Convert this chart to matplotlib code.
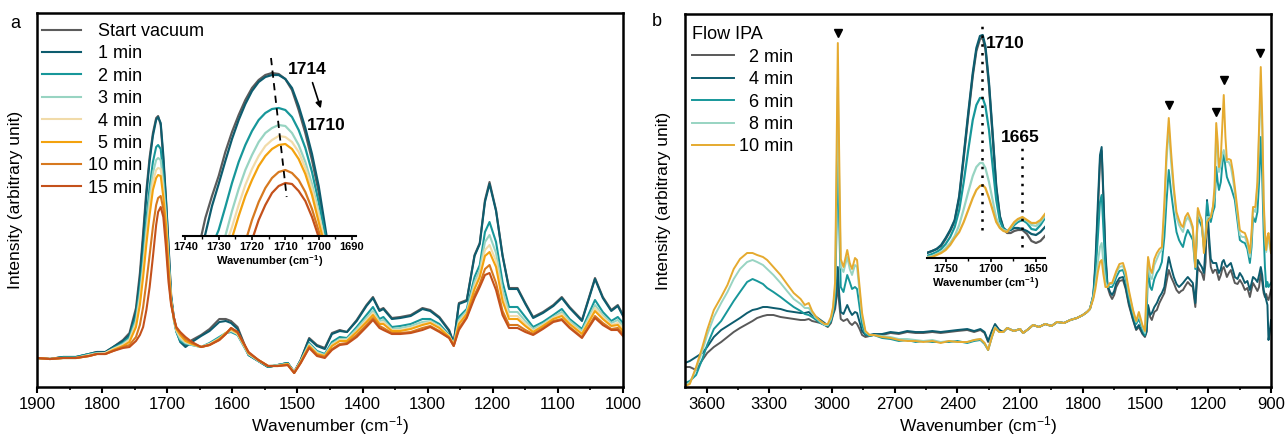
import matplotlib
matplotlib.use("Agg")
import matplotlib.pyplot as plt
from matplotlib.ticker import MultipleLocator

plt.rcParams['font.family'] = ['Liberation Sans', 'DejaVu Sans']
plt.rcParams['mathtext.fontset'] = 'custom'
plt.rcParams['mathtext.rm'] = 'Liberation Sans'
plt.rcParams['mathtext.bf'] = 'Liberation Sans:bold'
plt.rcParams['mathtext.default'] = 'regular'

# ---------------- panel a: vacuum series (intensity, arbitrary unit) ----------------
wn_a = [1900, 1880, 1860, 1840, 1820, 1808, 1795, 1783, 1768, 1758, 1748, 1742, 1737, 1732, 1727,
        1722, 1717, 1714, 1710, 1706, 1702, 1698, 1694, 1690, 1686, 1680, 1672, 1662, 1648, 1635,
        1620, 1610, 1602, 1592, 1575, 1560, 1545, 1530, 1515, 1505, 1495, 1482, 1470, 1458, 1447,
        1435, 1424, 1409, 1394, 1384, 1374, 1368, 1355, 1342, 1326, 1308, 1296, 1282, 1267, 1260,
        1252, 1240, 1228, 1220, 1212, 1205, 1195, 1185, 1175, 1162, 1150, 1138, 1123, 1107, 1094,
        1082, 1063, 1043, 1031, 1018, 1008, 1000]

a_start = [29, 28, 30, 30, 33, 35, 35, 40, 47, 54, 79, 114, 154, 197, 230,
           254, 269, 271, 262, 227, 187, 140, 90, 70, 57, 47, 42, 47, 52, 58,
           68, 68, 66, 60, 32, 26, 20, 22, 24, 15, 27, 49, 42, 39, 54,
           57, 55, 67, 82, 90, 77, 79, 69, 70, 72, 79, 77, 70, 57, 44,
           84, 87, 132, 144, 187, 205, 177, 132, 99, 99, 84, 70, 75, 82, 90,
           80, 67, 109, 90, 77, 82, 72]
a_1min = [29, 28, 30, 30, 33, 35, 35, 40, 46, 52, 75, 108, 148, 192, 226,
          251, 267, 270, 264, 232, 190, 142, 92, 70, 56, 45, 40, 45, 51, 56,
          65, 66, 64, 58, 32, 26, 20, 22, 24, 15, 27, 48, 41, 38, 53,
          56, 55, 66, 81, 89, 76, 78, 68, 69, 71, 78, 76, 69, 56, 44,
          83, 86, 131, 143, 185, 203, 176, 131, 98, 98, 83, 69, 74, 81, 89,
          79, 66, 108, 89, 76, 81, 71]
a_2min = [29, 28, 30, 30, 33, 34, 34, 39, 44, 50, 70, 98, 130, 168, 200,
          225, 240, 242, 238, 212, 178, 132, 88, 68, 55, 46, 43, 42, 40, 44,
          50, 54, 55, 52, 32, 26, 20, 22, 24, 15, 26, 44, 36, 33, 45,
          50, 49, 60, 72, 80, 68, 70, 60, 61, 63, 68, 68, 63, 52, 43,
          70, 78, 110, 122, 155, 165, 145, 105, 80, 80, 70, 60, 65, 72, 78,
          68, 58, 87, 75, 66, 70, 64]
a_3min = [29, 28, 29, 29, 32, 34, 34, 38, 43, 48, 66, 92, 122, 158, 190,
          214, 227, 229, 227, 203, 172, 128, 87, 68, 56, 48, 44, 42, 40, 43,
          49, 54, 56, 53, 33, 26, 21, 22, 23, 15, 26, 43, 35, 32, 43,
          48, 48, 58, 69, 76, 66, 67, 58, 59, 61, 65, 66, 61, 51, 43,
          67, 76, 105, 117, 145, 152, 134, 97, 75, 75, 66, 58, 63, 70, 75,
          66, 56, 82, 72, 64, 67, 61]
a_4min = [29, 28, 29, 29, 32, 33, 34, 38, 42, 47, 63, 87, 116, 150, 180,
          205, 217, 219, 218, 196, 167, 124, 86, 69, 57, 50, 45, 43, 40, 43,
          48, 54, 57, 53, 33, 27, 21, 21, 23, 15, 25, 42, 34, 31, 42,
          47, 47, 56, 67, 74, 64, 65, 57, 57, 59, 63, 65, 60, 51, 42,
          65, 74, 101, 113, 137, 142, 126, 91, 71, 71, 63, 56, 62, 69, 73,
          64, 54, 79, 70, 62, 64, 59]
a_5min = [29, 28, 29, 29, 31, 33, 33, 37, 41, 45, 60, 82, 110, 143, 172,
          197, 209, 212, 211, 190, 163, 121, 85, 69, 58, 52, 46, 43, 40, 42,
          48, 54, 58, 54, 34, 27, 21, 21, 23, 14, 25, 41, 33, 31, 41,
          46, 46, 55, 65, 72, 63, 63, 56, 56, 58, 62, 64, 59, 50, 42,
          63, 73, 98, 110, 131, 135, 120, 86, 68, 68, 61, 55, 61, 68, 71,
          63, 53, 76, 68, 61, 62, 56]
a_10min = [29, 28, 29, 29, 31, 33, 33, 36, 40, 42, 50, 62, 80, 105, 132,
           160, 182, 189, 191, 178, 150, 112, 84, 70, 59, 54, 48, 44, 40, 42,
           47, 53, 59, 55, 34, 27, 21, 21, 22, 14, 24, 40, 32, 30, 38,
           43, 44, 52, 62, 69, 61, 59, 54, 54, 55, 59, 61, 56, 49, 41,
           59, 70, 92, 103, 118, 122, 104, 76, 62, 62, 57, 53, 59, 66, 68,
           60, 50, 71, 64, 58, 59, 53]
a_15min = [29, 28, 29, 29, 31, 33, 33, 36, 39, 40, 46, 52, 60, 77, 100,
           130, 162, 175, 180, 170, 140, 105, 82, 70, 60, 55, 50, 45, 40, 42,
           47, 53, 59, 55, 35, 27, 21, 21, 22, 14, 24, 39, 31, 29, 37,
           42, 43, 50, 60, 67, 59, 57, 53, 53, 54, 57, 60, 55, 49, 41,
           57, 69, 89, 100, 112, 114, 97, 72, 59, 59, 55, 52, 58, 65, 67,
           59, 49, 69, 62, 57, 57, 51]

# inset a: zoom on the C=O band
wn_ia = [1738, 1736, 1734, 1732, 1730, 1728, 1726, 1724, 1722, 1720, 1718,
         1716, 1714, 1712, 1710, 1708, 1706, 1704, 1702, 1700, 1698, 1696]
ia_start = [-40, -12, 18, 40, 60, 84, 104, 121, 136, 148, 156, 161, 163, 162, 157, 146, 126, 103, 76, 44, 2, -40]
ia_1min = [-50, -22, 2, 30, 52, 75, 97, 116, 132, 145, 154, 159, 161, 161, 157, 148, 130, 108, 82, 50, 8, -35]
ia_2min = [-100, -60, -30, -10, 6, 29, 53, 74, 91, 105, 116, 123, 127, 128, 126, 119, 106, 88, 64, 34, 1, -40]
ia_3min = [-100, -70, -45, -25, -10, 0, 25, 47, 66, 81, 94, 103, 108, 111, 110, 103, 91, 74, 52, 24, -8, -45]
ia_4min = [-125, -100, -75, -50, -30, -10, 9, 31, 51, 67, 80, 90, 96, 100, 99, 94, 84, 68, 47, 21, -8, -40]
ia_5min = [-130, -105, -80, -55, -35, -15, -2, 20, 40, 56, 70, 80, 87, 91, 92, 87, 77, 62, 41, 14, -12, -45]
ia_10min = [-300, -260, -220, -180, -140, -100, -62, -32, -6, 16, 34, 48, 58, 64, 66, 63, 56, 44, 27, 5, -20, -50]
ia_15min = [-330, -290, -250, -210, -170, -130, -95, -60, -30, -4, 16, 31, 43, 50, 53, 52, 45, 35, 19, -1, -25, -60]
shift_wn = [1714.3, 1709.6]
shift_h = [178, 39]

labels_a = ['  Start vacuum', '  1 min', '  2 min', '  3 min', '  4 min', '  5 min', '10 min', '15 min']
colors_a = ['#5b5b5b', '#0d5c6e', '#17979a', '#98d4c2', '#f1dba9', '#f3a20e', '#d7791f', '#c4511b']
main_a = [a_start, a_1min, a_2min, a_3min, a_4min, a_5min, a_10min, a_15min]
ins_a = [ia_start, ia_1min, ia_2min, ia_3min, ia_4min, ia_5min, ia_10min, ia_15min]

# ---------------- panel b: IPA flow series ----------------
wn_b = [3703, 3680, 3650, 3620, 3597, 3565, 3530, 3500, 3470, 3440, 3406, 3380, 3358, 3330, 3310,
        3280, 3246, 3215, 3183, 3150, 3130, 3111, 3095, 3075, 3055, 3035, 3020, 3005,
        2995, 2985, 2978, 2972, 2966, 2958, 2945, 2927, 2915, 2904, 2890, 2880, 2868, 2856, 2840, 2820, 2800,
        2760, 2720, 2680, 2640, 2600, 2563, 2520, 2480, 2440, 2400, 2353, 2320, 2290, 2270, 2253, 2235,
        2220, 2200, 2181, 2162, 2130, 2100, 2086, 2060, 2038, 2010, 1980, 1950, 1923, 1890, 1860, 1828, 1800,
        1780, 1766, 1750, 1740, 1728, 1718, 1710, 1702, 1692, 1682, 1670, 1660, 1650, 1640, 1625,
        1608, 1595, 1580, 1560, 1545, 1532, 1515, 1503, 1495, 1488, 1478, 1470, 1458, 1446, 1434,
        1422, 1410, 1400, 1389, 1378, 1365, 1352, 1340, 1330, 1321, 1310, 1298, 1286, 1274, 1262,
        1250, 1240, 1231, 1221, 1213, 1206, 1196, 1188, 1178, 1170, 1162, 1155, 1149, 1140, 1133,
        1126, 1118, 1111, 1102, 1092, 1082, 1073, 1060, 1049, 1037, 1025, 1013, 1001, 993, 986,
        975, 965, 957, 949, 942, 935, 929, 923, 917, 912, 906, 900]

b_2min = [20, 20, 17, 27, 34, 40, 45, 50, 55, 59, 63, 66, 69, 71, 72,
          72, 70, 69, 68, 67, 67, 68, 66, 65, 64, 62, 60, 64,
          72, 78, 90, 102, 85, 68, 66, 68, 64, 62, 65, 63, 58, 52, 50, 51, 52,
          52, 54, 53, 55, 54, 54, 55, 54, 55, 56, 57, 55, 57, 54, 45, 55,
          62, 57, 55, 59, 56, 58, 54, 58, 62, 60, 63, 61, 65, 64, 67, 69, 72,
          75, 78, 90, 120, 175, 225, 236, 190, 130, 100, 92, 88, 92, 100, 106,
          107, 98, 82, 67, 57, 60, 53, 50, 55, 80, 70, 67, 75, 77, 84,
          89, 94, 105, 117, 110, 104, 97, 94, 96, 97, 101, 105, 102, 100, 80,
          120, 116, 114, 107, 125, 178, 140, 120, 114, 117, 117, 112, 107, 112, 118,
          120, 115, 110, 114, 117, 110, 104, 103, 107, 103, 97, 99, 90, 98, 104,
          100, 96, 100, 114, 105, 94, 90, 93, 88, 87, 92, 97]
b_4min = [24, 26, 30, 34, 40, 50, 57, 61, 65, 69, 74, 77, 78, 80, 80,
          79, 78, 76, 75, 74, 74, 75, 72, 70, 67, 64, 61, 66,
          74, 82, 100, 120, 95, 75, 73, 82, 76, 72, 75, 74, 65, 56, 52, 52, 53,
          53, 55, 54, 56, 55, 55, 56, 55, 56, 57, 58, 56, 58, 55, 46, 56,
          63, 57, 55, 59, 56, 58, 54, 58, 62, 60, 63, 61, 65, 64, 67, 69, 72,
          75, 78, 92, 125, 185, 232, 240, 195, 135, 102, 95, 92, 96, 104, 109,
          110, 100, 84, 68, 58, 62, 54, 51, 56, 82, 72, 74, 80, 84, 90,
          94, 100, 115, 130, 120, 110, 103, 100, 102, 104, 107, 110, 107, 104, 84,
          127, 123, 120, 114, 140, 187, 150, 128, 124, 124, 124, 118, 114, 118, 125,
          127, 122, 120, 122, 124, 117, 110, 108, 114, 110, 104, 106, 97, 104, 110,
          108, 105, 112, 120, 112, 97, 92, 87, 82, 47, 55, 67]
b_6min = [4, 6, 12, 28, 42, 58, 66, 76, 86, 95, 105, 108, 106, 103, 99,
          95, 90, 85, 80, 76, 73, 72, 70, 67, 64, 62, 61, 66,
          74, 90, 160, 242, 170, 100, 95, 112, 105, 98, 100, 98, 80, 62, 53, 51, 52,
          49, 48, 46, 47, 45, 46, 45, 45, 45, 46, 44, 46, 47, 43, 37, 50,
          59, 55, 55, 59, 56, 58, 54, 58, 62, 60, 63, 61, 65, 64, 67, 69, 72,
          75, 78, 92, 112, 150, 185, 192, 160, 118, 100, 100, 100, 104, 110, 116,
          117, 108, 90, 73, 63, 68, 58, 52, 70, 120, 100, 97, 108, 114, 118,
          125, 150, 185, 217, 195, 174, 155, 147, 143, 140, 150, 157, 152, 147, 118,
          170, 165, 160, 140, 150, 185, 170, 165, 175, 180, 220, 205, 197, 205, 222,
          235, 220, 210, 205, 200, 193, 187, 165, 147, 145, 144, 138, 124, 140, 170,
          165, 175, 205, 250, 210, 154, 120, 100, 105, 100, 102, 104]
b_8min = [2, 4, 18, 36, 52, 70, 84, 95, 108, 118, 125, 127, 125, 122, 118,
          112, 104, 96, 88, 83, 79, 79, 74, 69, 65, 62, 62, 68,
          78, 100, 200, 300, 210, 120, 115, 130, 118, 112, 122, 120, 95, 70, 55, 52, 52,
          51, 50, 48, 48, 47, 46, 47, 45, 46, 45, 45, 47, 48, 44, 38, 51,
          60, 55, 55, 59, 56, 58, 54, 58, 62, 60, 63, 61, 65, 64, 67, 69, 72,
          75, 78, 90, 102, 125, 140, 144, 125, 105, 100, 103, 103, 108, 114, 120,
          121, 112, 94, 76, 65, 72, 60, 54, 90, 128, 110, 108, 122, 128, 134,
          137, 175, 225, 260, 225, 195, 170, 162, 158, 155, 165, 170, 165, 157, 120,
          176, 170, 165, 138, 150, 170, 170, 170, 180, 190, 255, 235, 215, 222, 232,
          237, 230, 225, 225, 220, 208, 195, 172, 152, 150, 150, 143, 130, 150, 178,
          175, 200, 250, 300, 260, 180, 150, 135, 145, 150, 140, 134]
b_10min = [1, 3, 20, 40, 57, 77, 90, 102, 118, 128, 134, 134, 132, 130, 127,
           120, 112, 103, 94, 88, 82, 84, 76, 70, 66, 63, 63, 70,
           80, 105, 230, 344, 240, 128, 120, 137, 124, 118, 129, 127, 100, 74, 56, 52, 52,
           50, 49, 47, 46, 46, 45, 46, 44, 46, 45, 45, 47, 48, 44, 37, 50,
           59, 55, 55, 59, 56, 58, 54, 58, 62, 60, 63, 61, 65, 64, 67, 69, 72,
           75, 78, 88, 98, 115, 125, 127, 113, 100, 100, 104, 104, 110, 116, 123,
           124, 115, 97, 77, 66, 75, 62, 56, 100, 130, 118, 114, 128, 134, 138,
           140, 185, 235, 269, 235, 200, 175, 167, 162, 160, 170, 174, 168, 160, 120,
           179, 172, 167, 134, 150, 165, 168, 170, 180, 200, 264, 245, 220, 230, 260,
           292, 250, 227, 228, 227, 215, 200, 177, 157, 155, 154, 147, 134, 155, 180,
           180, 205, 260, 320, 270, 187, 155, 137, 150, 154, 145, 134]

# inset b: C=O region
wn_ib = [1771, 1765, 1760, 1755, 1750, 1745, 1740, 1735, 1730, 1725, 1720, 1716, 1712, 1709, 1706,
         1702, 1698, 1694, 1690, 1686, 1682, 1678, 1674, 1670, 1665, 1660, 1655, 1650, 1645, 1640]
ib_2min = [5, 7, 9, 12, 19, 27, 37, 60, 100, 142, 182, 207, 219, 220, 209,
           172, 122, 70, 41, 29, 25, 25, 27, 28, 28, 24, 17, 15, 17, 22]
ib_4min = [5, 7, 9, 13, 20, 28, 38, 62, 103, 145, 185, 210, 222, 223, 212,
           175, 125, 72, 42, 30, 27, 28, 30, 30, 29, 27, 24, 23, 26, 31]
ib_6min = [2, 4, 6, 9, 14, 21, 31, 48, 76, 108, 138, 153, 160, 160, 152,
           128, 92, 58, 37, 29, 27, 29, 33, 36, 38, 35, 29, 28, 33, 40]
ib_8min = [1, 2, 4, 6, 10, 15, 22, 33, 49, 66, 82, 91, 95, 95, 90,
           76, 58, 40, 31, 28, 27, 30, 35, 38, 40, 37, 33, 32, 36, 42]
ib_10min = [0, 1, 3, 5, 8, 13, 20, 26, 36, 48, 60, 68, 72, 73, 70,
            60, 48, 36, 30, 27, 26, 31, 36, 39, 41, 38, 35, 35, 38, 44]

labels_b = ['  2 min', '  4 min', '  6 min', '  8 min', '10 min']
colors_b = ['#595959', '#0d5c6e', '#17979a', '#98d4c2', '#e5aa2f']
main_b = [b_2min, b_4min, b_6min, b_8min, b_10min]
ins_b = [ib_2min, ib_4min, ib_6min, ib_8min, ib_10min]

# peaks marked with triangles in panel b
tri_wn = [2971, 1389, 1165, 1126, 951]
tri_h = [354, 282, 275, 307, 334]

# ---------------- figure ----------------
W, H = 1287, 440
fig = plt.figure(figsize=(W / 100, H / 100), dpi=100)


def px_axes(x0, y0, x1, y1):
    return fig.add_axes([x0 / W, 1 - y1 / H, (x1 - x0) / W, (y1 - y0) / H])


def style_main(ax):
    for s in ax.spines.values():
        s.set_linewidth(1.8)
    ax.tick_params(axis='x', which='major', direction='out', length=4, width=1.5, labelsize=12, pad=3)
    ax.tick_params(axis='x', which='minor', direction='out', length=2.5, width=1.2)
    ax.set_yticks([])
    ax.set_xlabel('Wavenumber (cm$^{-1}$)', fontsize=12.5, labelpad=2)
    ax.set_ylabel('Intensity (arbitrary unit)', fontsize=12.5, labelpad=10)


def style_inset(ax):
    ax.patch.set_alpha(0)
    for s in ['left', 'right', 'top']:
        ax.spines[s].set_visible(False)
    ax.spines['bottom'].set_linewidth(1.5)
    ax.set_yticks([])
    ax.tick_params(axis='x', which='major', direction='out', length=3, width=1.2, labelsize=8, pad=1.5)
    ax.tick_params(axis='x', which='minor', direction='out', length=2, width=1.0)
    for t in ax.get_xticklabels():
        t.set_fontweight('bold')
    ax.set_xlabel(r'Wavenumber (cm$\mathbf{^{-1}}$)', fontsize=8, fontweight='bold', labelpad=0.5)


# panel a
ax1 = px_axes(37, 13.5, 623, 387)
for y, c, lab in zip(main_a, colors_a, labels_a):
    ax1.plot(wn_a, y, color=c, lw=1.5, label=lab)
ax1.set_xlim(1900, 1000)
ax1.set_ylim(0, 373.5)
ax1.xaxis.set_major_locator(MultipleLocator(100))
ax1.xaxis.set_minor_locator(MultipleLocator(50))
style_main(ax1)
ax1.legend(loc='upper left', bbox_to_anchor=(0.008, 0.975), frameon=False, fontsize=13,
           borderpad=0, borderaxespad=0, handlelength=2.2, handletextpad=0.35, labelspacing=0.3)

ia = px_axes(183, 56, 356, 236)
for y, c in zip(ins_a, colors_a):
    ia.plot(wn_ia, y, color=c, lw=1.6)
ia.plot(shift_wn, shift_h, color='black', lw=1.3, ls=(0, (4, 3)))
ia.set_xlim(1740.7, 1688.8)
ia.set_ylim(0, 180)
ia.xaxis.set_major_locator(MultipleLocator(10))
ia.xaxis.set_minor_locator(MultipleLocator(5))
style_inset(ia)
ia.text(1703.5, 166, '1714', fontsize=12.5, fontweight='bold', ha='center', va='center', clip_on=False)
ia.text(1697.6, 110, '1710', fontsize=12.5, fontweight='bold', ha='center', va='center', clip_on=False)
ia.annotate('', xy=(1699.1, 125), xytext=(1702.1, 156), annotation_clip=False,
            arrowprops=dict(arrowstyle='-|>', color='black', lw=1.2, mutation_scale=9))

# panel b
ax2 = px_axes(685, 14, 1271, 387)
for y, c, lab in zip(main_b, colors_b, labels_b):
    ax2.plot(wn_b, y, color=c, lw=1.4, label=lab)
ax2.plot(tri_wn, tri_h, ls='none', marker='v', color='black', markersize=6)
ax2.set_xlim(3703, 900)
ax2.set_ylim(0, 373)
ax2.xaxis.set_major_locator(MultipleLocator(300))
ax2.xaxis.set_minor_locator(MultipleLocator(150))
style_main(ax2)
ax2.legend(loc='upper left', bbox_to_anchor=(0.012, 0.967), frameon=False, fontsize=13,
           title='Flow IPA', title_fontsize=13, alignment='left',
           borderpad=0, borderaxespad=0, handlelength=2.3, handletextpad=0.3, labelspacing=0.3)

ib = px_axes(926.7, 18, 1045, 258)
for y, c in zip(ins_b, colors_b):
    ib.plot(wn_ib, y, color=c, lw=1.6)
ib.plot([1710, 1710], [28, 233], color='black', lw=1.8, ls=(0, (1, 2.5)))
ib.plot([1665, 1665], [11, 115], color='black', lw=1.8, ls=(0, (1, 2.5)))
ib.set_xlim(1771, 1640)
ib.set_ylim(0, 240)
ib.xaxis.set_major_locator(MultipleLocator(50))
ib.xaxis.set_minor_locator(MultipleLocator(25))
style_inset(ib)
ib.text(1684, 215, '1710', fontsize=12.5, fontweight='bold', ha='center', va='center', clip_on=False)
ib.text(1667.5, 121, '1665', fontsize=12.5, fontweight='bold', ha='center', va='center', clip_on=False)

fig.text(15 / W, 1 - 23 / H, 'a', fontsize=13, ha='center', va='center')
fig.text(657 / W, 1 - 22 / H, 'b', fontsize=13, ha='center', va='center')

fig.savefig('out.png', dpi=100)
